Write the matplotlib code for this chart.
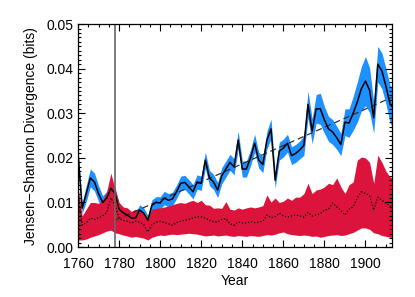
import numpy as np
import matplotlib
matplotlib.use("Agg")
import matplotlib.pyplot as plt
from matplotlib.ticker import MultipleLocator

# two-year sampling, 1760..1914
years = list(range(1760, 1916, 2))

jsd_mean = [0.0210, 0.0087, 0.0120, 0.0155, 0.0146, 0.0120, 0.0100, 0.0110, 0.0132, 0.0120,
            0.0085, 0.0077, 0.0072, 0.0065, 0.0065, 0.0083, 0.0076, 0.0060, 0.0094, 0.0100,
            0.0099, 0.0110, 0.0105, 0.0108, 0.0124, 0.0143, 0.0145, 0.0135, 0.0124, 0.0146,
            0.0143, 0.0195, 0.0155, 0.0146, 0.0128, 0.0160, 0.0175, 0.0190, 0.0180, 0.0240,
            0.0175, 0.0175, 0.0200, 0.0233, 0.0195, 0.0185, 0.0240, 0.0265, 0.0150, 0.0215,
            0.0222, 0.0233, 0.0205, 0.0210, 0.0218, 0.0228, 0.0320, 0.0260, 0.0310, 0.0310,
            0.0285, 0.0265, 0.0258, 0.0245, 0.0230, 0.0280, 0.0278, 0.0300, 0.0325, 0.0355,
            0.0372, 0.0352, 0.0290, 0.0410, 0.0395, 0.0360, 0.0320, 0.0310]

jsd_err = [0.0012, 0.0012, 0.0018, 0.0020, 0.0020, 0.0018, 0.0015, 0.0015, 0.0015, 0.0015,
           0.0012, 0.0012, 0.0011, 0.0011, 0.0011, 0.0012, 0.0012, 0.0011, 0.0012, 0.0013,
           0.0014, 0.0015, 0.0015, 0.0015, 0.0015, 0.0016, 0.0016, 0.0016, 0.0016, 0.0016,
           0.0016, 0.0018, 0.0017, 0.0017, 0.0017, 0.0018, 0.0018, 0.0018, 0.0018, 0.0020,
           0.0018, 0.0018, 0.0018, 0.0020, 0.0018, 0.0018, 0.0020, 0.0022, 0.0018, 0.0020,
           0.0020, 0.0020, 0.0020, 0.0020, 0.0020, 0.0022, 0.0030, 0.0028, 0.0032, 0.0035,
           0.0030, 0.0028, 0.0028, 0.0026, 0.0025, 0.0030, 0.0032, 0.0038, 0.0045, 0.0050,
           0.0055, 0.0050, 0.0035, 0.0040, 0.0040, 0.0040, 0.0042, 0.0045]

null_hi = [0.0135, 0.0070, 0.0085, 0.0100, 0.0100, 0.0098, 0.0105, 0.0125, 0.0166, 0.0130,
           0.0100, 0.0090, 0.0088, 0.0080, 0.0085, 0.0080, 0.0078, 0.0065, 0.0085, 0.0087,
           0.0088, 0.0090, 0.0092, 0.0095, 0.0098, 0.0100, 0.0098, 0.0102, 0.0105, 0.0100,
           0.0105, 0.0095, 0.0094, 0.0087, 0.0088, 0.0087, 0.0102, 0.0085, 0.0083, 0.0088,
           0.0085, 0.0088, 0.0090, 0.0088, 0.0090, 0.0093, 0.0117, 0.0101, 0.0110, 0.0100,
           0.0103, 0.0110, 0.0105, 0.0112, 0.0112, 0.0120, 0.0143, 0.0120, 0.0128, 0.0130,
           0.0135, 0.0143, 0.0140, 0.0155, 0.0135, 0.0120, 0.0140, 0.0146, 0.0195, 0.0202,
           0.0200, 0.0190, 0.0143, 0.0206, 0.0190, 0.0170, 0.0157, 0.0155]

null_lo = [0.0016, 0.0016, 0.0018, 0.0022, 0.0025, 0.0028, 0.0032, 0.0036, 0.0038, 0.0032,
           0.0030, 0.0027, 0.0025, 0.0022, 0.0024, 0.0022, 0.0020, 0.0016, 0.0022, 0.0025,
           0.0027, 0.0026, 0.0028, 0.0029, 0.0028, 0.0029, 0.0030, 0.0031, 0.0030, 0.0029,
           0.0027, 0.0025, 0.0026, 0.0027, 0.0025, 0.0026, 0.0027, 0.0025, 0.0024, 0.0026,
           0.0025, 0.0024, 0.0026, 0.0025, 0.0024, 0.0026, 0.0028, 0.0027, 0.0029, 0.0032,
           0.0034, 0.0030, 0.0028, 0.0027, 0.0026, 0.0027, 0.0026, 0.0024, 0.0025, 0.0022,
           0.0024, 0.0026, 0.0027, 0.0028, 0.0026, 0.0027, 0.0030, 0.0033, 0.0038, 0.0043,
           0.0043, 0.0040, 0.0032, 0.0030, 0.0026, 0.0024, 0.0022, 0.0022]

null_med = [0.0120, 0.0049, 0.0055, 0.0065, 0.0062, 0.0066, 0.0070, 0.0078, 0.0110, 0.0094,
            0.0065, 0.0060, 0.0058, 0.0054, 0.0058, 0.0056, 0.0050, 0.0034, 0.0050, 0.0056,
            0.0058, 0.0055, 0.0052, 0.0049, 0.0055, 0.0058, 0.0060, 0.0062, 0.0065, 0.0068,
            0.0068, 0.0065, 0.0060, 0.0057, 0.0056, 0.0062, 0.0064, 0.0052, 0.0049, 0.0056,
            0.0054, 0.0054, 0.0057, 0.0055, 0.0056, 0.0058, 0.0072, 0.0066, 0.0068, 0.0076,
            0.0070, 0.0067, 0.0070, 0.0072, 0.0070, 0.0067, 0.0078, 0.0070, 0.0072, 0.0075,
            0.0083, 0.0085, 0.0099, 0.0090, 0.0082, 0.0072, 0.0085, 0.0090, 0.0110, 0.0124,
            0.0120, 0.0115, 0.0083, 0.0112, 0.0105, 0.0098, 0.0092, 0.0090]

trend_years = [1778, 1913]
trend_vals = [0.0060, 0.0336]
marker_year = 1778

yr = np.array(years)
mean = np.array(jsd_mean)
err = np.array(jsd_err)

plt.rcParams['font.family'] = ['Liberation Sans', 'DejaVu Sans']
plt.rcParams['font.size'] = 10

fig = plt.figure(figsize=(4.15, 2.97), dpi=100)
ax = fig.add_axes([0.188, 0.168, 0.757, 0.751])

ax.fill_between(yr, mean - err, mean + err, color='#1e90ff', lw=0)
ax.fill_between(yr, null_lo, null_hi, color='#dc143c', lw=0)
ax.plot(yr, null_med, color='black', ls=(0, (1, 1.5)), lw=0.9)
ax.plot(trend_years, trend_vals, color='#333333', ls=(0, (5, 3)), lw=0.9)
ax.plot(yr, mean, color='black', lw=1.1)
ax.axvline(marker_year, color='#666666', lw=1.2)

ax.set_xlim(1760, 1913)
ax.set_ylim(0, 0.05)
ax.xaxis.set_major_locator(MultipleLocator(20))
ax.xaxis.set_minor_locator(MultipleLocator(5))
ax.yaxis.set_major_locator(MultipleLocator(0.01))
ax.yaxis.set_minor_locator(MultipleLocator(0.001))
ax.yaxis.set_major_formatter(matplotlib.ticker.FormatStrFormatter('%.2f'))
ax.tick_params(which='both', direction='in', top=True, right=True, width=0.8)
ax.tick_params(which='major', length=5)
ax.tick_params(axis='x', which='major', pad=7)
ax.tick_params(axis='y', which='major', pad=3)
ax.tick_params(which='minor', length=2.5)
for s in ax.spines.values():
    s.set_linewidth(0.9)

ax.set_xlabel('Year', labelpad=2)
ax.set_ylabel('Jensen\u2212Shannon Divergence (bits)', labelpad=6)

fig.savefig('out.png', dpi=100)
